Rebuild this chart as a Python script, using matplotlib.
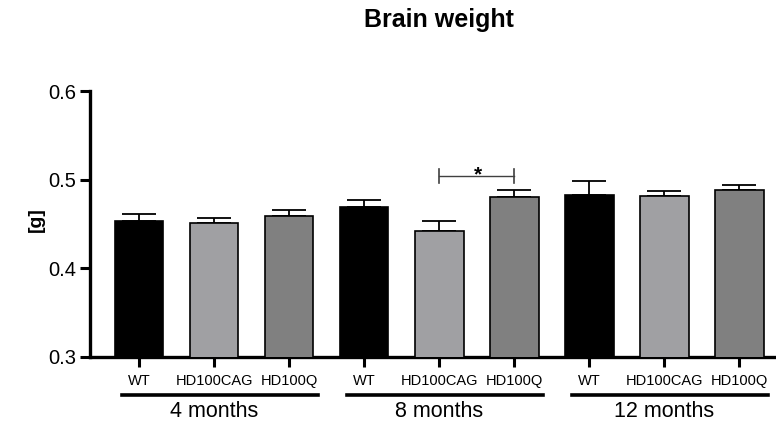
"""
Brain weight bar chart
"""

import numpy as np
import matplotlib
matplotlib.use("Agg")
import matplotlib.pyplot as plt
import matplotlib.transforms as mtransforms

plt.rcParams["font.family"] = ["Liberation Sans", "DejaVu Sans"]

# data
genotypes = ["WT", "HD100CAG", "HD100Q"]
ages = ["4 months", "8 months", "12 months"]
means = [0.453, 0.451, 0.459,
         0.469, 0.442, 0.481,
         0.483, 0.482, 0.489]
sems = [0.008, 0.006, 0.007,
        0.008, 0.012, 0.007,
        0.016, 0.005, 0.005]
bar_colors = ["#000000", "#a0a0a3", "#808080"]

fig = plt.figure(figsize=(7.76, 4.26), dpi=100)
ax = fig.add_axes([0.116, 0.162, 0.884, 0.624])

x = np.arange(len(means))
colors = bar_colors * len(ages)

ax.bar(x, means, width=0.65, color=colors, edgecolor="black",
       linewidth=1.2, zorder=3)
ax.errorbar(x, means, yerr=[np.zeros(len(sems)), sems], fmt="none",
            ecolor="black", elinewidth=1.3, capsize=12, capthick=1.3, zorder=2)

ax.set_ylim(0.3, 0.6)
ax.set_xlim(-0.653, 8.49)
ax.set_yticks([0.3, 0.4, 0.5, 0.6])
ax.set_yticklabels(["0.3", "0.4", "0.5", "0.6"], fontsize=14.5)
ax.set_xticks(x)
ax.set_xticklabels(genotypes * len(ages), fontsize=10.5)
ax.tick_params(axis="both", width=2.2, length=7, direction="out")
ax.tick_params(axis="x", pad=5)
ax.tick_params(axis="y", pad=3)

for side in ["top", "right"]:
    ax.spines[side].set_visible(False)
ax.spines["left"].set_linewidth(2.4)
ax.spines["bottom"].set_linewidth(2.4)

fig.text(36 / 776, 1 - 220 / 426, "[g]", rotation=90, ha="center",
         va="center", fontsize=14, fontweight="bold")

# group lines and labels under the x ticks
trans = mtransforms.blended_transform_factory(ax.transData, ax.transAxes)
for i, age in enumerate(ages):
    c = i * 3 + 1
    ax.plot([c - 1.23, c + 1.39], [-0.143, -0.143], color="black",
            linewidth=2.6, transform=trans, clip_on=False)
    ax.text(c, -0.205, age, transform=trans, ha="center", va="center",
            fontsize=15.5)

# significance bracket
sig_y = 0.504
ax.plot([4, 5], [sig_y, sig_y], color="#404040", linewidth=1.0)
ax.plot([4, 4], [sig_y - 0.008, sig_y + 0.008], color="#404040", linewidth=1.2)
ax.plot([5, 5], [sig_y - 0.008, sig_y + 0.008], color="#404040", linewidth=1.2)
ax.text(4.52, sig_y + 0.001, "*", ha="center", va="center", fontsize=15,
        fontweight="bold")

fig.text(439 / 776, 1 - 20 / 426, "Brain weight", ha="center", va="center",
         fontsize=18, fontweight="bold")

fig.savefig("out.png", dpi=100)
